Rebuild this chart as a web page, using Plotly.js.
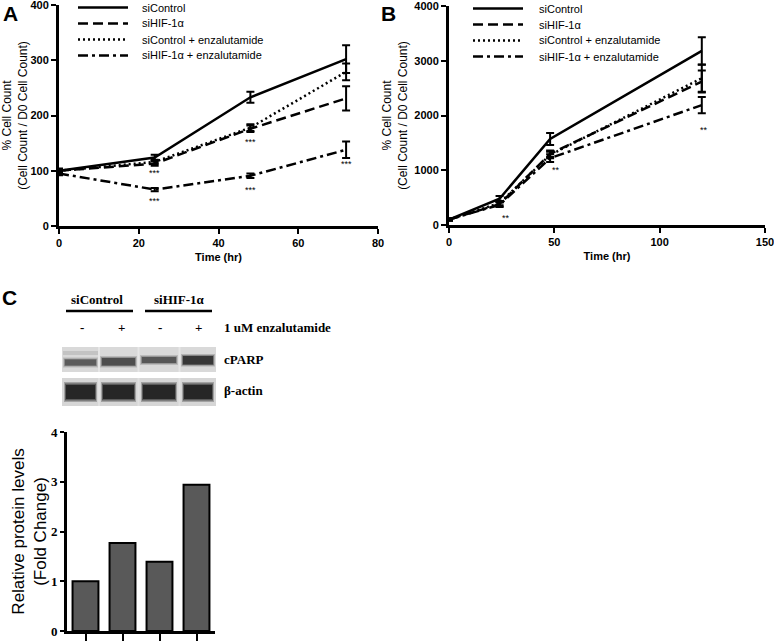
<!DOCTYPE html>
<html><head><meta charset="utf-8">
<script src="https://cdn.plot.ly/plotly-3.0.1.min.js"></script>
<style>html,body{margin:0;padding:0;background:#fff}#chart{width:774px;height:644px}</style>
</head><body><div id="chart"></div>
<script>
// ---------- DATA ----------
const seriesNames = ['siControl', 'siHIF-1α', 'siControl + enzalutamide', 'siHIF-1α + enzalutamide'];

// Panel A
const timeA = [0, 24, 48, 72];
const siControlA = [100, 124, 233, 302];
const siControlA_err = [4, 5, 10, 25];
const siHIFA = [100, 113, 176, 231];
const siHIFA_err = [3, 4, 6, 22];
const siControlEnzA = [100, 116, 178, 279];
const siControlEnzA_err = [3, 4, 6, 15];
const siHIFEnzA = [95, 66, 91, 138];
const siHIFEnzA_err = [3, 3, 4, 15];
const sigA_x = [24, 24, 48, 48, 72];
const sigA_y = [96, 46, 152, 65, 112];
const sigA_text = ['***', '***', '***', '***', '***'];

// Panel B
const timeB = [0, 24, 48, 120];
const siControlB = [100, 480, 1570, 3180];
const siControlB_err = [20, 50, 110, 250];
const siHIFB = [100, 380, 1300, 2620];
const siHIFB_err = [20, 40, 60, 200];
const siControlEnzB = [100, 400, 1280, 2680];
const siControlEnzB_err = [20, 40, 60, 245];
const siHIFEnzB = [100, 370, 1220, 2190];
const siHIFEnzB_err = [20, 40, 70, 150];
const sigB_x = [27, 51, 121];
const sigB_y = [130, 1000, 1740];
const sigB_text = ['**', '**', '**'];

// Panel C
const lanes = ['siControl −', 'siControl +', 'siHIF-1α −', 'siHIF-1α +'];
const foldChange = [1.0, 1.77, 1.39, 2.94];

// ---------- STYLE / LAYOUT ----------
const W = 774, H = 644;
const px = x => x / W;
const py = y => 1 - y / H;
const ARIAL = 'Arial, "Liberation Sans", sans-serif';
const TIMES = '"Times New Roman", "Liberation Serif", serif';
const dashes = ['solid', '10px,5px', '2px,3px', '10px,4px,3px,4px'];

function lineTrace(x, y, err, i, xa, ya) {
  return {
    type: 'scatter', mode: 'lines', x: x, y: y, name: seriesNames[i],
    xaxis: xa, yaxis: ya, showlegend: false, cliponaxis: false,
    line: {color: '#000', width: 2.5, dash: dashes[i]},
    error_y: {type: 'data', array: err, visible: true, color: '#000', thickness: 2, width: 4}
  };
}

const data = [
  lineTrace(timeA, siControlA, siControlA_err, 0, 'x', 'y'),
  lineTrace(timeA, siHIFA, siHIFA_err, 1, 'x', 'y'),
  lineTrace(timeA, siControlEnzA, siControlEnzA_err, 2, 'x', 'y'),
  lineTrace(timeA, siHIFEnzA, siHIFEnzA_err, 3, 'x', 'y'),
  lineTrace(timeB, siControlB, siControlB_err, 0, 'x2', 'y2'),
  lineTrace(timeB, siHIFB, siHIFB_err, 1, 'x2', 'y2'),
  lineTrace(timeB, siControlEnzB, siControlEnzB_err, 2, 'x2', 'y2'),
  lineTrace(timeB, siHIFEnzB, siHIFEnzB_err, 3, 'x2', 'y2'),
  {
    type: 'bar', x: lanes, y: foldChange, xaxis: 'x3', yaxis: 'y3', showlegend: false,
    width: 0.7, marker: {color: '#595959', line: {color: '#000', width: 2}}
  }
];

const tickBold = {family: ARIAL, size: 11, color: '#000', weight: 'bold'};
function lineAxis(domain, range, dtick, anchor) {
  return {
    domain: domain, range: range, dtick: dtick, tick0: 0, anchor: anchor,
    showline: true, linewidth: 3, linecolor: '#000', mirror: false,
    ticks: 'outside', ticklen: 5, tickwidth: 2, tickcolor: '#000',
    showgrid: false, zeroline: false, tickfont: tickBold, automargin: false,
    ticklabeloverflow: 'allow'
  };
}

const xA = lineAxis([px(59), px(378)], [0, 80], 20, 'y');
xA.title = {text: 'Time (hr)', font: {family: ARIAL, size: 11, color: '#000', weight: 'bold'}, standoff: 6};
const yA = lineAxis([py(226), py(5)], [0, 400], 100, 'x');
yA.title = {text: '% Cell Count<br>(Cell Count / D0 Cell Count)', font: {family: ARIAL, size: 12, color: '#000'}, standoff: 14};

const xB = lineAxis([px(449), px(765)], [0, 150], 50, 'y2');
xB.title = {text: 'Time (hr)', font: {family: ARIAL, size: 11, color: '#000', weight: 'bold'}, standoff: 6};
const yB = lineAxis([py(225), py(6)], [0, 4000], 1000, 'x2');
yB.title = {text: '% Cell Count<br>(Cell Count / D0 Cell Count)', font: {family: ARIAL, size: 12, color: '#000'}, standoff: 5};

const xC = {
  domain: [px(67), px(215)], range: [-0.5, 3.5], type: 'category', anchor: 'y3',
  showline: true, linewidth: 3, linecolor: '#000',
  ticks: 'outside', ticklen: 7, tickwidth: 2, tickcolor: '#000',
  showticklabels: false, showgrid: false, zeroline: false, automargin: false
};
const yC = {
  domain: [py(631), py(432)], range: [0, 4], dtick: 1, anchor: 'x3',
  showline: true, linewidth: 3, linecolor: '#000',
  ticks: 'outside', ticklen: 4, tickwidth: 2, tickcolor: '#000',
  showgrid: false, zeroline: false, automargin: false,
  tickfont: {family: TIMES, size: 13, color: '#000', weight: 'bold'},
  title: {text: 'Relative protein levels<br>(Fold Change)', font: {family: ARIAL, size: 17, color: '#000'}, standoff: 0}
};

const shapes = [];
const annotations = [];
function rect(x0, y0, x1, y1, color, opacity) {
  shapes.push({type: 'rect', xref: 'paper', yref: 'paper', x0: px(x0), x1: px(x1), y0: py(y1), y1: py(y0),
    fillcolor: color, opacity: opacity === undefined ? 1 : opacity, line: {width: 0}, layer: 'above'});
}
function hline(x0, x1, y, w, dash) {
  shapes.push({type: 'line', xref: 'paper', yref: 'paper', x0: px(x0), x1: px(x1), y0: py(y), y1: py(y),
    line: {color: '#000', width: w, dash: dash || 'solid'}});
}
function txt(text, x, y, font, xanchor) {
  annotations.push({text: text, xref: 'paper', yref: 'paper', x: px(x), y: py(y),
    xanchor: xanchor || 'center', yanchor: 'middle', showarrow: false, font: font});
}

// ---------- legends (drawn key) ----------
const legFont = {family: ARIAL, size: 11, color: '#000'};
const legRowsA = [7.5, 23.5, 39.5, 55.5];
const legRowsB = [8.5, 24.5, 40.5, 56.5];
seriesNames.forEach((n, i) => {
  hline(78, 128, legRowsA[i], 2.5, dashes[i]);
  txt(n, 140, legRowsA[i], legFont, 'left');
  hline(473, 523, legRowsB[i], 2.5, dashes[i]);
  txt(n, 537, legRowsB[i], legFont, 'left');
});

// ---------- western blot drawing (decorative image) ----------
hline(66, 133, 311, 2.5);
hline(145, 212, 311, 2.5);
rect(62, 347, 216, 372, '#d9d9d9');
rect(62, 378, 216, 406, '#d6d6d6');
const laneX = [[63, 98], [100, 137], [140, 178], [181, 215]];
const cparpBand = [[359.5, 365.5, '#555555'], [358, 365.5, '#484848'], [357, 363, '#505050'], [356, 364.5, '#303030']];
laneX.forEach((l, i) => {
  const b = cparpBand[i];
  rect(l[0], b[0] - 2, l[1], b[1] + 2, b[2], 0.22);
  rect(l[0] + 1, b[0] - 0.8, l[1] - 1, b[1] + 0.8, b[2], 0.45);
  rect(l[0] + 2, b[0], l[1] - 2, b[1], b[2], 0.9);
});
rect(63, 351, 98, 355, '#a8a8a8', 0.45);
laneX.forEach((l, i) => {
  rect(l[0] + 1, 382, l[1] - 1, 402, '#2a2a2a', 0.3);
  rect(l[0] + 2, 383.5, l[1] - 2, 400.5, '#2a2a2a', 0.6);
  rect(l[0] + 3, 385, l[1] - 3, 399, '#262626', 1);
});
[99, 138.5, 179.5].forEach(x => { rect(x - 1, 347, x + 1, 372, '#ebebeb', 0.7); rect(x - 1, 378, x + 1, 406, '#e6e6e6', 0.6); });

const panelFont = {family: ARIAL, size: 21, color: '#000', weight: 'bold'};
txt('A', 10, 13, panelFont);
txt('B', 388, 13, panelFont);
txt('C', 9, 298, panelFont);
const blotFont = {family: TIMES, size: 13, color: '#000', weight: 'bold'};
txt('siControl', 97, 299, blotFont);
txt('siHIF-1α', 179, 299, blotFont);
txt('-', 82, 327, blotFont);
txt('+', 121, 327, blotFont);
txt('-', 160, 327, blotFont);
txt('+', 198, 327, blotFont);
txt('1 uM enzalutamide', 222, 327, blotFont, 'left');
txt('cPARP', 222, 360, blotFont, 'left');
txt('β-actin', 222, 391, blotFont, 'left');

sigA_x.forEach((x, i) => annotations.push({text: sigA_text[i], x: x, y: sigA_y[i], xref: 'x', yref: 'y',
  showarrow: false, font: {family: ARIAL, size: 9, color: '#000'}}));
sigB_x.forEach((x, i) => annotations.push({text: sigB_text[i], x: x, y: sigB_y[i], xref: 'x2', yref: 'y2',
  showarrow: false, font: {family: ARIAL, size: 9, color: '#000'}}));

const layout = {
  width: W, height: H, margin: {l: 0, r: 0, t: 0, b: 0},
  paper_bgcolor: '#fff', plot_bgcolor: 'rgba(0,0,0,0)',
  font: {family: ARIAL, color: '#000'}, showlegend: false,
  xaxis: xA, yaxis: yA, xaxis2: xB, yaxis2: yB, xaxis3: xC, yaxis3: yC,
  shapes: shapes, annotations: annotations
};

Plotly.newPlot('chart', data, layout, {displayModeBar: false, staticPlot: true});
</script></body></html>
